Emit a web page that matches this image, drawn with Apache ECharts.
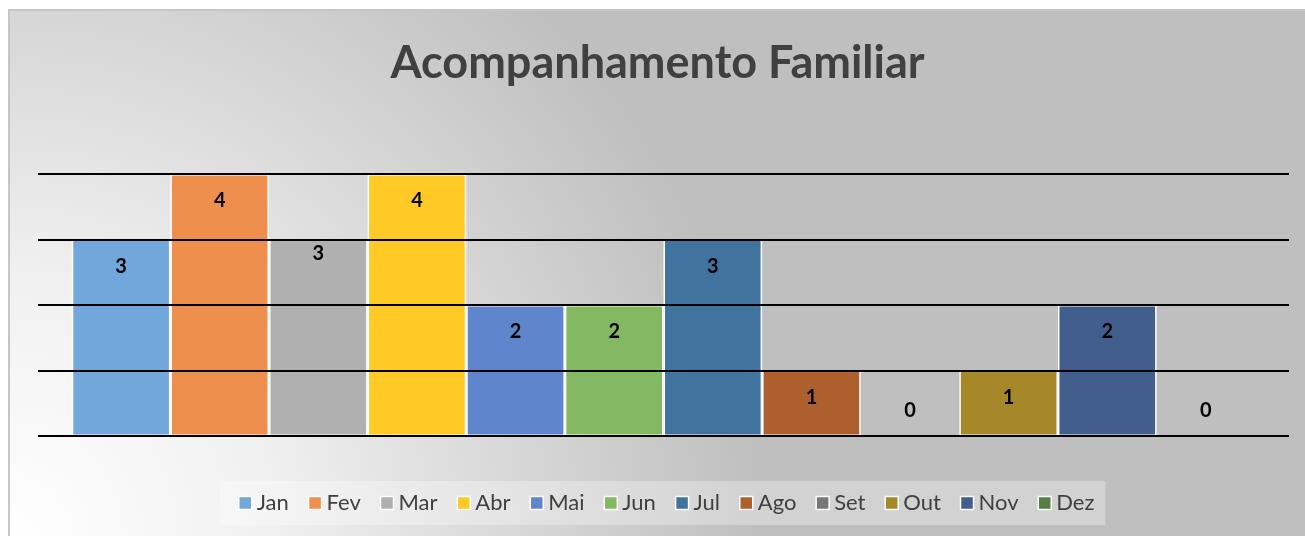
<!DOCTYPE html>
<html>
<head>
<meta charset="utf-8">
<script src="https://cdn.jsdelivr.net/npm/echarts@6/dist/echarts.min.js"></script>
<style>
  html, body { margin: 0; padding: 0; background: #ffffff; }
  #frame { position: absolute; left: 8px; top: 9px; border-left: 2px solid #c6c6c6; border-top: 2px solid #c6c6c6; }
  #chart { width: 1295px; height: 525px; }
</style>
</head>
<body>
<div id="frame"><div id="chart"></div></div>
<script>
// dados do gráfico
const months = ['Jan', 'Fev', 'Mar', 'Abr', 'Mai', 'Jun', 'Jul', 'Ago', 'Set', 'Out', 'Nov', 'Dez'];
const values = [3, 4, 3, 4, 2, 2, 3, 1, 0, 1, 2, 0];
const yTicks = [0, 1, 2, 3, 4];

// cores (paleta do Excel)
const palette = ['#71a7da', '#ee8f4d', '#b0b0b0', '#ffc926', '#5f86cd', '#82b962',
                 '#41739f', '#ad5f2e', '#787878', '#a6882a', '#415e8c', '#55803f'];

const chart = echarts.init(document.getElementById('chart'));

const series = months.map((m, i) => ({
    name: m,
    type: 'bar',
    data: [values[i]],
    barGap: 0,
    barCategoryGap: '5.4%',
    itemStyle: { color: palette[i], borderColor: '#ffffff', borderWidth: 1.5 },
    label: {
        show: true,
        position: values[i] === 0 ? 'top' : 'insideTop',
        distance: values[i] === 0 ? 15 : (m === 'Mar' ? 4 : 17),
        color: '#000000',
        fontFamily: 'Lato',
        fontWeight: 'bold',
        fontSize: 20
    }
}));

const option = {
    backgroundColor: {
        type: 'radial', x: 0, y: 1, r: 1.43,
        colorStops: [
            { offset: 0, color: '#ffffff' },
            { offset: 0.35, color: '#f0f0f0' },
            { offset: 1, color: '#bfbfbf' }
        ]
    },
    title: {
        text: 'Acompanhamento Familiar',
        left: 'center',
        top: 25,
        textStyle: { fontFamily: 'Lato', fontWeight: 'bold', fontSize: 45, color: '#404040' }
    },
    legend: {
        data: months,
        left: 210,
        top: 470,
        padding: [11, 11, 11, 18],
        itemGap: 19,
        itemWidth: 13,
        itemHeight: 13,
        icon: 'rect',
        itemStyle: { borderColor: '#ffffff', borderWidth: 1.5 },
        backgroundColor: 'rgba(255,255,255,0.3)',
        textStyle: { fontFamily: 'Lato', fontSize: 22, color: '#404040' }
    },
    grid: { left: 28, right: 16, top: 163, bottom: 100 },
    xAxis: {
        type: 'category',
        data: [''],
        axisLine: { show: false },
        axisTick: { show: false },
        axisLabel: { show: false }
    },
    yAxis: {
        type: 'value',
        min: yTicks[0],
        max: yTicks[yTicks.length - 1],
        interval: 1,
        z: 3,
        axisLabel: { show: false },
        axisLine: { show: false },
        axisTick: { show: false },
        splitLine: { lineStyle: { color: '#000000', width: 2 } }
    },
    series: series
};
chart.setOption(option);
</script>
</body>
</html>
